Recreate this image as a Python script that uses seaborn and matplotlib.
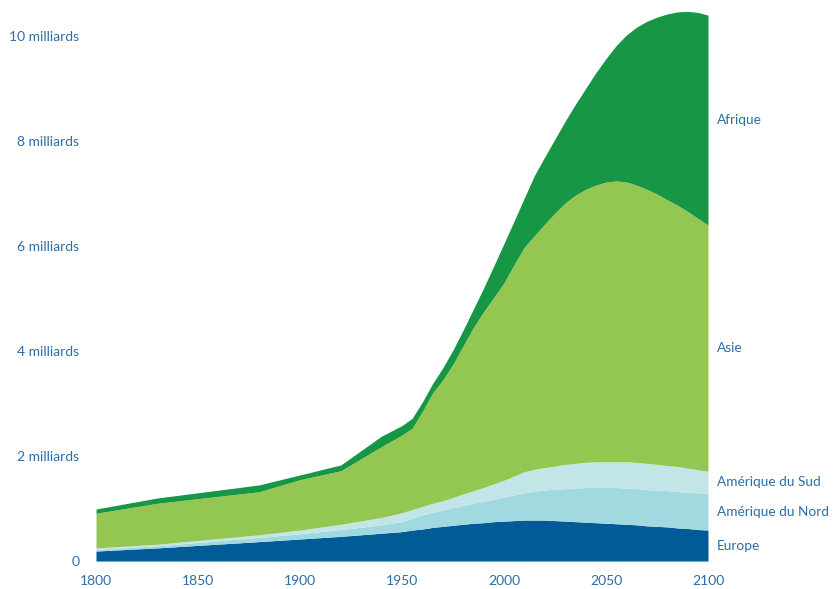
# Population mondiale par continent, 1800-2100 (aires empilées)

import numpy as np
import seaborn as sns
import matplotlib.pyplot as plt

# Données (milliards d'habitants par continent)
annees = [1800, 1830, 1880, 1900, 1920, 1940,
          1950, 1955, 1960, 1965, 1970, 1975, 1980, 1985, 1990, 1995,
          2000, 2005, 2010, 2015, 2020, 2025, 2030, 2035, 2040, 2045,
          2050, 2055, 2060, 2065, 2070, 2075, 2080, 2085, 2090, 2095, 2100]
europe = [0.19, 0.25, 0.37, 0.42, 0.47, 0.53,
          0.56, 0.59, 0.61, 0.64, 0.66, 0.68, 0.70, 0.72, 0.73, 0.75,
          0.76, 0.77, 0.78, 0.78, 0.78, 0.77, 0.76, 0.75, 0.74, 0.73,
          0.72, 0.71, 0.70, 0.69, 0.67, 0.66, 0.65, 0.63, 0.62, 0.60, 0.59]
amerique_nord = [0.03, 0.04, 0.08, 0.10, 0.13, 0.16,
                 0.19, 0.23, 0.27, 0.29, 0.31, 0.34, 0.36, 0.38, 0.41, 0.43,
                 0.46, 0.49, 0.52, 0.55, 0.57, 0.60, 0.62, 0.64, 0.66, 0.67,
                 0.68, 0.69, 0.69, 0.69, 0.69, 0.69, 0.69, 0.69, 0.69, 0.70, 0.70]
amerique_sud = [0.03, 0.03, 0.05, 0.07, 0.10, 0.14,
                0.17, 0.16, 0.16, 0.17, 0.18, 0.19, 0.22, 0.24, 0.26, 0.29,
                0.32, 0.36, 0.40, 0.42, 0.43, 0.44, 0.46, 0.47, 0.48, 0.49,
                0.49, 0.49, 0.50, 0.50, 0.50, 0.49, 0.48, 0.48, 0.46, 0.44, 0.42]
asie = [0.66, 0.78, 0.82, 0.96, 1.02, 1.35,
        1.48, 1.55, 1.81, 2.10, 2.30, 2.54, 2.82, 3.11, 3.35, 3.55,
        3.76, 4.03, 4.28, 4.45, 4.64, 4.82, 4.98, 5.11, 5.20, 5.27,
        5.33, 5.35, 5.33, 5.28, 5.22, 5.15, 5.06, 4.98, 4.89, 4.79, 4.69]
afrique = [0.08, 0.10, 0.13, 0.09, 0.11, 0.20,
           0.18, 0.19, 0.18, 0.18, 0.23, 0.27, 0.30, 0.35, 0.45, 0.60,
           0.75, 0.83, 0.94, 1.15, 1.28, 1.41, 1.56, 1.73, 1.92, 2.14,
           2.35, 2.58, 2.80, 3.01, 3.20, 3.37, 3.54, 3.68, 3.81, 3.92, 4.00]

noms = ["Europe", "Amérique du Nord", "Amérique du Sud", "Asie", "Afrique"]
couleurs = ["#005b96", "#a1d9e0", "#c2e5e8", "#93c752", "#179646"]
bleu_texte = "#2d6da5"

sns.set_theme(style="white")
plt.rcParams['font.family'] = ['Lato', 'DejaVu Sans']

fig = plt.figure(figsize=(8.34, 5.89), dpi=100)
ax = fig.add_axes([0.1151, 0.0475, 0.7338, 0.9448])

couches = [europe, amerique_nord, amerique_sud, asie, afrique]
ax.stackplot(annees, couches, colors=couleurs, linewidth=0)

ax.set_xlim(1800, 2100)
ax.set_ylim(0, 10.6)
sns.despine(ax=ax, left=True, bottom=True)

ax.set_yticks([0, 2, 4, 6, 8, 10])
ax.set_yticklabels(["0", "2 milliards", "4 milliards", "6 milliards",
                    "8 milliards", "10 milliards"])
ax.set_xticks([1800, 1850, 1900, 1950, 2000, 2050, 2100])
ax.tick_params(axis="both", length=0, labelsize=10, colors=bleu_texte)
ax.tick_params(axis="y", pad=12)
ax.tick_params(axis="x", pad=10)
ax.grid(False)

# Étiquettes à droite, au milieu de chaque couche en 2100
cumul = np.cumsum([c[-1] for c in couches])
bas = np.concatenate([[0], cumul[:-1]])
for nom, b, h in zip(noms, bas, cumul):
    ax.text(2104.5, (b + h) / 2, nom, color=bleu_texte, fontsize=9.8,
            va="center", ha="left", clip_on=False)

fig.savefig("out.png", dpi=100)
